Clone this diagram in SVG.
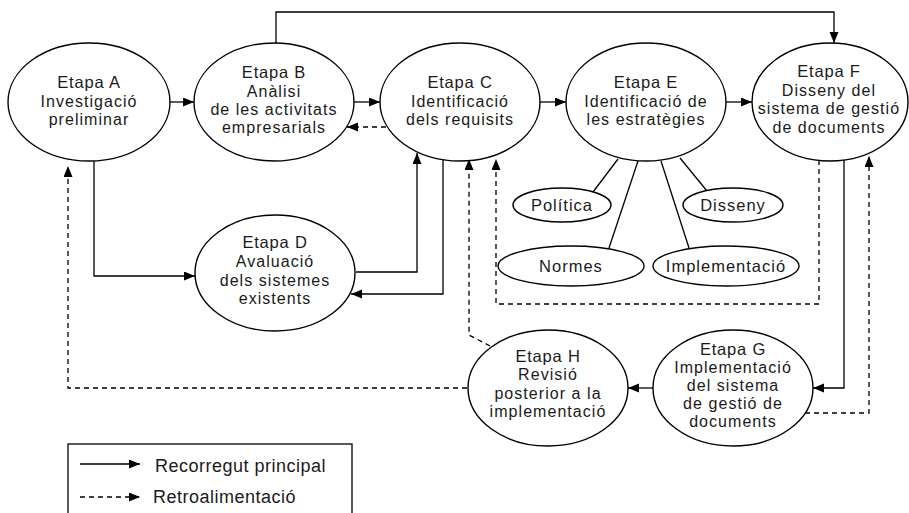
<svg xmlns="http://www.w3.org/2000/svg" width="909" height="513" viewBox="0 0 909 513">
<defs>
<marker id="ah" markerUnits="userSpaceOnUse" markerWidth="12" markerHeight="10" refX="11" refY="4.5" orient="auto"><path d="M0,0 L11,4.5 L0,9 z" fill="#000"/></marker>
<style>
.n{fill:#fff;stroke:#000;stroke-width:1.4}
.t{font-family:"Liberation Sans",Arial,sans-serif;font-size:16px;letter-spacing:1.05px;fill:#1a1a1a;text-anchor:middle}
.h{font-size:16.5px;letter-spacing:0.8px}
.s{font-size:16.5px;letter-spacing:1px}
.c{fill:none;stroke:#000;stroke-width:1.3}
.a{marker-end:url(#ah)}
.d{stroke-dasharray:5 4}
.l{font-family:"Liberation Sans",Arial,sans-serif;font-size:18px;letter-spacing:0.5px;fill:#1a1a1a}
</style>
</defs>
<rect width="909" height="513" fill="#fff"/>
<g id="connectors">
<path class="c a" d="M170,102 L194,102"/>
<path class="c a" d="M354,102 L380,102"/>
<path class="c a" d="M540,102 L566,102"/>
<path class="c a" d="M726,102 L752,102"/>
<path class="c a" d="M276,43 L276,12 L834,12 L834,43"/>
<path class="c a d" d="M386,127 L347,127"/>
<path class="c a" d="M94,161 L94,276 L195,276"/>
<path class="c a" d="M356,272 L417,272 L417,153"/>
<path class="c a" d="M443,160 L443,294 L351,294"/>
<path class="c a d" d="M467,388 L68,388 L68,166"/>
<path class="c a d" d="M819,160 L819,304 L496,304 L496,159"/>
<path class="c a d" d="M490,346 L469,335 L469,159"/>
<path class="c a" d="M844,160 L844,388 L813,388"/>
<path class="c a d" d="M805,413 L869,413 L869,156"/>
<path class="c a" d="M653,388 L628,388"/>
<path class="c" d="M618,159 L593,192"/>
<path class="c" d="M638,161 L609,248"/>
<path class="c" d="M661,161 L689,248"/>
<path class="c" d="M680,158 L707,191"/>
</g>
<g id="nodeA"><ellipse class="n" cx="89" cy="102" rx="81" ry="59"/>
<text class="t"><tspan class="h" x="89" y="88">Etapa A</tspan><tspan x="89" y="106.5">Investigació</tspan><tspan x="89" y="125">preliminar</tspan></text></g>
<g id="nodeB"><ellipse class="n" cx="274" cy="102" rx="80" ry="59"/>
<text class="t"><tspan class="h" x="274" y="78">Etapa B</tspan><tspan x="274" y="96.5">Anàlisi</tspan><tspan x="274" y="114.5">de les activitats</tspan><tspan x="274" y="133">empresarials</tspan></text></g>
<g id="nodeC"><ellipse class="n" cx="460" cy="102" rx="80" ry="59"/>
<text class="t"><tspan class="h" x="460" y="88">Etapa C</tspan><tspan x="460" y="106.5">Identificació</tspan><tspan x="460" y="125">dels requisits</tspan></text></g>
<g id="nodeE"><ellipse class="n" cx="646" cy="102" rx="80" ry="59"/>
<text class="t"><tspan class="h" x="646" y="88">Etapa E</tspan><tspan x="646" y="106.5">Identificació de</tspan><tspan x="646" y="125">les estratègies</tspan></text></g>
<g id="nodeF"><ellipse class="n" cx="830" cy="102" rx="78" ry="59"/>
<text class="t"><tspan class="h" x="829" y="77">Etapa F</tspan><tspan x="829" y="95.5">Disseny del</tspan><tspan x="829" y="114">sistema de gestió</tspan><tspan x="829" y="132.5">de documents</tspan></text></g>
<g id="nodeD"><ellipse class="n" cx="275" cy="273" rx="80" ry="58"/>
<text class="t"><tspan class="h" x="275" y="248">Etapa D</tspan><tspan x="275" y="266.5">Avaluació</tspan><tspan x="275" y="285.5">dels sistemes</tspan><tspan x="275" y="304">existents</tspan></text></g>
<g id="nodeH"><ellipse class="n" cx="548" cy="388" rx="80" ry="58"/>
<text class="t"><tspan class="h" x="548" y="361.5">Etapa H</tspan><tspan x="548" y="380">Revisió</tspan><tspan x="548" y="398.5">posterior a la</tspan><tspan x="548" y="416.5">implementació</tspan></text></g>
<g id="nodeG"><ellipse class="n" cx="733" cy="388" rx="80" ry="58"/>
<text class="t"><tspan class="h" x="733" y="354.5">Etapa G</tspan><tspan x="733" y="373">Implementació</tspan><tspan x="733" y="391">del sistema</tspan><tspan x="733" y="409">de gestió de</tspan><tspan x="733" y="427">documents</tspan></text></g>
<g id="nodePolitica"><ellipse class="n" cx="562" cy="205" rx="49" ry="17"/><text class="t s" x="562" y="211">Política</text></g>
<g id="nodeDisseny"><ellipse class="n" cx="733" cy="205" rx="50" ry="17"/><text class="t s" x="733" y="211">Disseny</text></g>
<g id="nodeNormes"><ellipse class="n" cx="571" cy="266" rx="73" ry="20"/><text class="t s" x="571" y="272">Normes</text></g>
<g id="nodeImplementacio"><ellipse class="n" cx="726" cy="266" rx="73" ry="20"/><text class="t s" x="726" y="272">Implementació</text></g>
<g id="legend">
<rect x="68" y="444" width="284" height="80" fill="none" stroke="#000" stroke-width="1.3"/>
<path class="c a" d="M80,464 L140,464"/>
<path class="c a d" d="M80,497 L140,497"/>
<text class="l" x="155" y="472">Recorregut principal</text>
<text class="l" x="153" y="503">Retroalimentació</text>
</g>
</svg>
